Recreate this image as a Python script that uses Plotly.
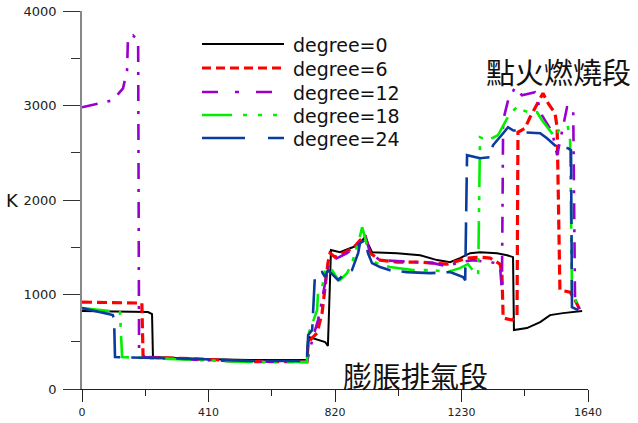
import plotly.graph_objects as go

# ---- data (x: crank position, y: temperature K) ----
x_deg0 = [0, 214, 227, 230, 382, 545, 729, 736, 788, 797, 807, 836, 869, 895, 917, 940, 1021, 1096, 1151,
          1193, 1225, 1258, 1290, 1345, 1378, 1397, 1400, 1442, 1485, 1517, 1559, 1621]
y_deg0 = [825, 814, 793, 338, 317, 307, 307, 550, 497, 455, 1470, 1448, 1490, 1522, 1607, 1448, 1437, 1416, 1364,
          1342, 1385, 1437, 1448, 1437, 1416, 1395, 624, 645, 708, 782, 803, 825]

x_deg6 = [0, 194, 198, 382, 545, 729, 733, 762, 778, 788, 797, 804, 820, 846, 878, 917, 934, 966, 1021, 1096,
          1183, 1248, 1290, 1323, 1355, 1361, 1365, 1394, 1410, 1413, 1436, 1452, 1475, 1494, 1511, 1533, 1540,
          1549, 1582, 1598, 1614]
y_deg6 = [920, 909, 338, 317, 290, 288, 497, 592, 803, 1078, 1332, 1438, 1395, 1438, 1490, 1628, 1438, 1364, 1342, 1342,
          1321, 1385, 1395, 1385, 1321, 1226, 751, 729, 772, 2717, 2759, 2875, 3023, 3129, 3023, 2918, 2770,
          1047, 1025, 941, 835]

x_deg12 = [0, 100, 133, 146, 149, 165, 182, 185, 204, 382, 545, 729, 749, 765, 778, 788, 797, 810, 827, 859, 891,
           917, 934, 966, 1073, 1138, 1183, 1225, 1267, 1313, 1345, 1355, 1361, 1365, 1381, 1404, 1426, 1468, 1491,
           1524, 1540, 1572, 1592, 1598, 1614]
y_deg12 = [2981, 3055, 3182, 3372, 3721, 3742, 3689, 380, 338, 307, 288, 288, 550, 729, 941, 1152, 1290, 1364, 1385,
           1438, 1522, 1628, 1438, 1364, 1342, 1332, 1300, 1342, 1364, 1342, 1332, 1290, 1047, 2843, 3055, 3192,
           3108, 3140, 2896, 2717, 2474, 2981, 2981, 941, 835]

x_deg18 = [0, 123, 130, 382, 545, 729, 733, 762, 765, 778, 788, 804, 827, 836, 859, 875, 895, 908, 917, 934, 956,
           998, 1073, 1138, 1183, 1225, 1251, 1274, 1284, 1290, 1316, 1348, 1365, 1387, 1410, 1430, 1459, 1475,
           1491, 1511, 1533, 1549, 1575, 1582, 1588, 1598, 1608]
y_deg18 = [856, 814, 338, 307, 285, 285, 571, 835, 1015, 1068, 1258, 1290, 1173, 1152, 1226, 1332, 1543, 1712, 1607,
           1364, 1332, 1290, 1258, 1258, 1237, 1279, 1321, 1226, 1205, 2664, 2632, 2685, 2791, 2918, 2981, 2949,
           2918, 2928, 2843, 2759, 2664, 2759, 2770, 2632, 1047, 962, 867]

x_deg24 = [0, 100, 104, 107, 382, 545, 729, 733, 746, 749, 755, 765, 778, 788, 797, 814, 830, 846, 875, 895, 901,
           917, 927, 940, 966, 998, 1053, 1128, 1193, 1235, 1242, 1248, 1290, 1323, 1332, 1365, 1381, 1397, 1430,
           1485, 1507, 1540, 1559, 1575, 1585, 1588, 1608]
y_deg24 = [856, 782, 729, 338, 317, 296, 296, 571, 624, 867, 1205, 1226, 1237, 1184, 1258, 1205, 1152, 1205, 1258,
           1438, 1543, 1575, 1438, 1332, 1290, 1258, 1237, 1226, 1237, 1184, 1152, 2474, 2442, 2453, 2579, 2706,
           2770, 2738, 2717, 2706, 2653, 2558, 2558, 2548, 2526, 867, 835]

series_names = ["degree=0", "degree=6", "degree=12", "degree=18", "degree=24"]
x_ticks = [0, 410, 820, 1230, 1640]
y_ticks = [0, 1000, 2000, 3000, 4000]
label_top = "點火燃燒段"
label_bottom = "膨脹排氣段"
y_label = "K"

# ---- styles ----
colors = ["#000000", "#ff0000", "#9a00cc", "#00f000", "#0a3c9e"]
widths = [2, 3.2, 2.6, 2.6, 2.6]
dashes = ["solid", "10px,5px", "16px,10px,3px,10px", "28px,9px,4px,8px,4px,9px", "34px,11px"]
legend_dashes = ["solid", "9px,5px", "16px,17px,4px,17px", "30px,11px,4px,11px,4px,11px,4px,11px", "43px,23px"]

W, H = 638, 423
L, R, T, B = 82, 50, 11, 34
pw, ph = W - L - R, H - T - B

def px(x):
    return (x - L) / pw

def py(y):
    return (H - B - y) / ph

fig = go.Figure()
xs = [x_deg0, x_deg6, x_deg12, x_deg18, x_deg24]
ys = [y_deg0, y_deg6, y_deg12, y_deg18, y_deg24]
for i in range(5):
    fig.add_trace(go.Scatter(x=xs[i], y=ys[i], mode="lines", name=series_names[i],
                             line=dict(color=colors[i], width=widths[i], dash=dashes[i]),
                             showlegend=False))

# manual legend (long line samples like the reference)
shapes = []
annotations = []
rows = [44, 68, 92, 115, 138]
for i in range(5):
    shapes.append(dict(type="line", xref="paper", yref="paper",
                       x0=px(202), x1=px(284), y0=py(rows[i]), y1=py(rows[i]),
                       line=dict(color=colors[i], width=widths[i] if i != 1 else 3, dash=legend_dashes[i])))
    annotations.append(dict(text=series_names[i], xref="paper", yref="paper", x=px(291), y=py(rows[i] + 1),
                            xanchor="left", yanchor="middle", showarrow=False,
                            font=dict(family="DejaVu Sans", size=19, color="#111")))

annotations.append(dict(text=label_top, xref="paper", yref="paper", x=px(558), y=py(71),
                        xanchor="center", yanchor="middle", showarrow=False,
                        font=dict(family="Noto Sans CJK TC", size=29, color="#111")))
annotations.append(dict(text=label_bottom, xref="paper", yref="paper", x=px(415), y=py(375),
                        xanchor="center", yanchor="middle", showarrow=False,
                        font=dict(family="Noto Sans CJK TC", size=29, color="#111")))
annotations.append(dict(text=y_label, xref="paper", yref="paper", x=px(12), y=py(200),
                        xanchor="center", yanchor="middle", showarrow=False,
                        font=dict(family="DejaVu Sans", size=18, color="#111")))

fig.update_layout(
    width=W, height=H,
    margin=dict(l=L, r=R, t=T, b=B, pad=0, autoexpand=False),
    paper_bgcolor="white", plot_bgcolor="white",
    shapes=shapes, annotations=annotations,
    showlegend=False,
    xaxis=dict(range=[0, 1640], tickvals=x_ticks, ticktext=[str(v) for v in x_ticks], automargin=False,
               showgrid=False, zeroline=False, showline=True, linecolor="#222", linewidth=1.2,
               ticks="outside", ticklen=12, tickwidth=1.2, tickcolor="#222", ticklabelstandoff=1,
               minor=dict(tickvals=[205, 615, 1025, 1435], ticks="outside", ticklen=6, tickwidth=1.2,
                          tickcolor="#222", showgrid=False),
               tickfont=dict(family="DejaVu Sans", size=11, color="#222")),
    yaxis=dict(range=[0, 4000], tickvals=y_ticks, ticktext=[str(v) for v in y_ticks], automargin=False,
               showgrid=False, zeroline=False, showline=True, linecolor="#888", linewidth=1.5,
               ticks="outside", ticklen=17, tickwidth=1.2, tickcolor="#333", ticklabelstandoff=4,
               minor=dict(tickvals=[500, 1500, 2500, 3500], ticks="outside", ticklen=9, tickwidth=1.2,
                          tickcolor="#333", showgrid=False),
               tickfont=dict(family="DejaVu Sans", size=13, color="#222")),
)

fig.write_html("out.html")
